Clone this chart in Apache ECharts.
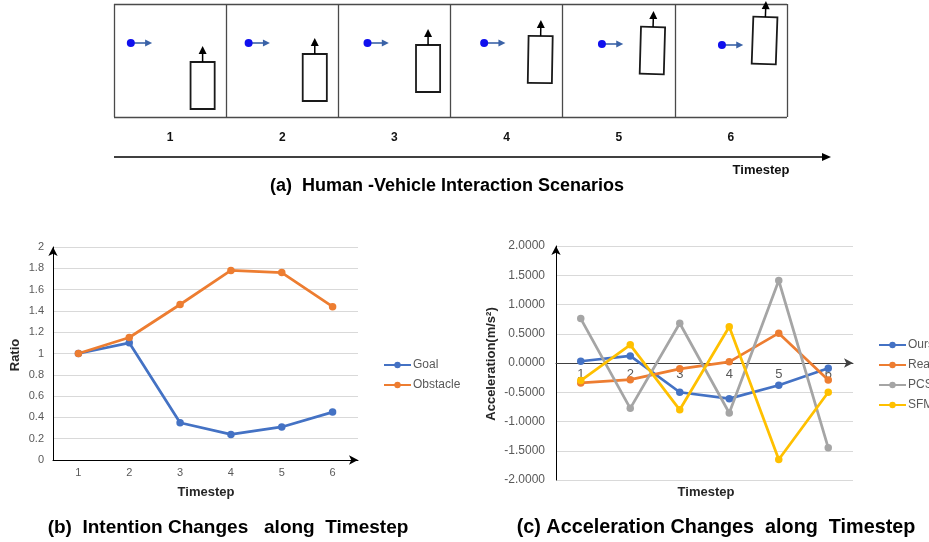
<!DOCTYPE html>
<html><head><meta charset="utf-8">
<script src="https://cdn.jsdelivr.net/npm/echarts@6/dist/echarts.min.js"></script>
<style>html,body{margin:0;padding:0;background:#fff}#c{width:929px;height:542px}</style>
</head><body><div id="c"></div>
<script>
// ---- data ----
const steps = ['1','2','3','4','5','6'];
// (a) schematic: pedestrian and vehicle positions per timestep panel
const pedX = [0.15, 1.20, 2.26, 3.30, 4.35, 5.42];
const pedY = [74, 74, 74, 74, 73, 72];
const vehX = [0.79, 1.79, 2.80, 3.80, 4.80, 5.80];
const vehY = [31.5, 39.5, 48.5, 57.5, 66.5, 76.5];
const vehTilt = [0, 0, 0, 1, 1.6, 2];
// (b) intention ratios
const goal = [1, 1.1, 0.35, 0.24, 0.31, 0.45];
const obstacle = [1, 1.15, 1.46, 1.78, 1.76, 1.44];
// (c) acceleration
const ours = [0.03, 0.12, -0.50, -0.61, -0.38, -0.09];
const real = [-0.34, -0.285, -0.10, 0.02, 0.51, -0.29];
const pcs = [0.76, -0.775, 0.68, -0.855, 1.41, -1.45];
const sfm = [-0.30, 0.31, -0.80, 0.62, -1.65, -0.50];

const capFont = "'Liberation Sans',Arial,sans-serif";
const axFont = "'Liberation Sans',Arial,sans-serif";
const gray = '#595959';

const chart = echarts.init(document.getElementById('c'), null, {renderer: 'canvas'});

function lineSeries(name, data, color, xi, yi) {
  return {
    name, type: 'line', data, xAxisIndex: xi, yAxisIndex: yi,
    symbol: 'circle', symbolSize: 7.5, color,
    lineStyle: {width: 2.75, color}, itemStyle: {color},
    emphasis: {disabled: true}, animation: false, z: 3
  };
}

const option = {
  animation: false,
  backgroundColor: '#fff',
  grid: [
    {left: 114, top: 4, width: 673, height: 113},
    {left: 53, top: 247, width: 305, height: 213},
    {left: 556, top: 246, width: 297, height: 234}
  ],
  xAxis: [
    {gridIndex: 0, type: 'value', min: 0, max: 6, interval: 1,
     axisLine: {show: false}, axisTick: {show: false}, axisLabel: {show: false},
     splitLine: {show: true, lineStyle: {color: '#4a4a4a', width: 1.3}}},
    {gridIndex: 0, type: 'category', data: steps, position: 'bottom',
     axisLine: {show: false}, axisTick: {show: false}, splitLine: {show: false},
     axisLabel: {margin: 15, color: '#111', fontWeight: 'bold', fontSize: 12, fontFamily: axFont}},
    {gridIndex: 1, type: 'category', data: steps, boundaryGap: true,
     axisLine: {show: true, lineStyle: {color: '#000', width: 1}, symbol: ['none', 'arrow'], symbolSize: [7, 9]},
     axisTick: {show: false}, splitLine: {show: false},
     axisLabel: {margin: 7, color: gray, fontSize: 11, fontFamily: axFont}},
    {gridIndex: 2, type: 'category', data: steps, boundaryGap: true, position: 'bottom', offset: -117,
     axisLine: {show: true, onZero: false, lineStyle: {color: '#404040', width: 1}, symbol: ['none', 'arrow'], symbolSize: [7, 9]},
     axisTick: {show: false}, splitLine: {show: false},
     axisLabel: {margin: 5, color: gray, fontSize: 13, fontFamily: axFont}}
  ],
  yAxis: [
    {gridIndex: 0, type: 'value', min: 0, max: 113, interval: 113,
     axisLine: {show: false}, axisTick: {show: false}, axisLabel: {show: false},
     splitLine: {show: true, lineStyle: {color: '#4a4a4a', width: 1.3}}},
    {gridIndex: 1, type: 'value', min: 0, max: 2, interval: 0.2,
     axisLine: {show: true, lineStyle: {color: '#000', width: 1}, symbol: ['none', 'arrow'], symbolSize: [7, 9]},
     axisTick: {show: false},
     splitLine: {show: true, lineStyle: {color: '#D9D9D9', width: 1}},
     axisLabel: {margin: 9, color: gray, fontSize: 11, fontFamily: axFont}},
    {gridIndex: 2, type: 'value', min: -2, max: 2, interval: 0.5,
     axisLine: {show: true, lineStyle: {color: '#000', width: 1}, symbol: ['none', 'arrow'], symbolSize: [7, 9]},
     axisTick: {show: false},
     splitLine: {show: true, lineStyle: {color: '#D9D9D9', width: 1}},
     axisLabel: {margin: 11, color: gray, fontSize: 12, fontFamily: axFont,
       formatter: v => v.toFixed(4)}}
  ],
  legend: [
    {data: ['Goal', 'Obstacle'], orient: 'vertical', left: 378, top: 354,
     itemWidth: 27, itemHeight: 8, itemGap: 8, selectedMode: false,
     textStyle: {color: gray, fontSize: 12, fontFamily: axFont, padding: [0, 0, 0, -3]}},
    {data: ['Ours', 'Real', 'PCS', 'SFM'], orient: 'vertical', left: 873, top: 334,
     itemWidth: 27, itemHeight: 8, itemGap: 8, selectedMode: false,
     textStyle: {color: gray, fontSize: 12, fontFamily: axFont, padding: [0, 0, 0, -3]}}
  ],
  series: [
    {type: 'custom', xAxisIndex: 0, yAxisIndex: 0, silent: true, clip: false,
     data: pedX.map((x, i) => [x, pedY[i]]),
     renderItem(params, api) {
       const p = api.coord([api.value(0), api.value(1)]);
       const len = api.size([0.19, 0])[0];
       const col = '#3A62A7';
       return {type: 'group', children: [
         {type: 'line', shape: {x1: p[0], y1: p[1], x2: p[0] + len - 5, y2: p[1]}, style: {stroke: col, lineWidth: 1.6}},
         {type: 'polygon', shape: {points: [[p[0] + len - 7, p[1] - 3.5], [p[0] + len, p[1]], [p[0] + len - 7, p[1] + 3.5]]}, style: {fill: col}},
         {type: 'circle', shape: {cx: p[0], cy: p[1], r: 4}, style: {fill: '#1010EE'}}
       ]};
     }},
    {type: 'custom', xAxisIndex: 0, yAxisIndex: 0, silent: true, clip: false,
     data: vehX.map((x, i) => [x, vehY[i], vehTilt[i]]),
     renderItem(params, api) {
       const c = api.coord([api.value(0), api.value(1)]);
       const s = api.size([0.215, 47]);
       const w = s[0], h = s[1];
       const rot = -api.value(2) * Math.PI / 180;
       return {type: 'group', x: c[0], y: c[1], rotation: rot, children: [
         {type: 'rect', shape: {x: -w / 2, y: -h / 2, width: w, height: h}, style: {fill: '#fff', stroke: '#1a1a1a', lineWidth: 1.8}},
         {type: 'line', shape: {x1: 0, y1: -h / 2, x2: 0, y2: -h / 2 - 9}, style: {stroke: '#000', lineWidth: 1.5}},
         {type: 'polygon', shape: {points: [[-4, -h / 2 - 8], [0, -h / 2 - 16], [4, -h / 2 - 8]]}, style: {fill: '#000'}}
       ]};
     }},
    lineSeries('Goal', goal, '#4472C4', 2, 1),
    lineSeries('Obstacle', obstacle, '#ED7D31', 2, 1),
    lineSeries('Ours', ours, '#4472C4', 3, 2),
    lineSeries('Real', real, '#ED7D31', 3, 2),
    lineSeries('PCS', pcs, '#A5A5A5', 3, 2),
    lineSeries('SFM', sfm, '#FFC000', 3, 2)
  ],
  graphic: [
    {type: 'line', shape: {x1: 114, y1: 157, x2: 823, y2: 157}, style: {stroke: '#000', lineWidth: 1.5}},
    {type: 'polygon', shape: {points: [[822, 153], [831, 157], [822, 161]]}, style: {fill: '#000'}},
    {type: 'text', x: 761, y: 170, style: {text: 'Timestep', font: "bold 13px " + capFont, fill: '#111', textAlign: 'center', textVerticalAlign: 'middle'}},
    {type: 'text', x: 447, y: 186, style: {text: '(a)  Human -Vehicle Interaction Scenarios', font: "bold 18px " + capFont, fill: '#000', textAlign: 'center', textVerticalAlign: 'middle'}},
    {type: 'text', x: 228, y: 528, style: {text: '(b)  Intention Changes   along  Timestep', font: "bold 19px " + capFont, fill: '#000', textAlign: 'center', textVerticalAlign: 'middle'}},
    {type: 'text', x: 716, y: 528, style: {text: '(c) Acceleration Changes  along  Timestep', font: "bold 19.8px " + capFont, fill: '#000', textAlign: 'center', textVerticalAlign: 'middle'}},
    {type: 'text', x: 15, y: 355, rotation: Math.PI / 2, style: {text: 'Ratio', font: "bold 13px " + axFont, fill: '#262626', textAlign: 'center', textVerticalAlign: 'middle'}},
    {type: 'text', x: 206, y: 492, style: {text: 'Timestep', font: "bold 13px " + axFont, fill: '#262626', textAlign: 'center', textVerticalAlign: 'middle'}},
    {type: 'text', x: 491, y: 364, rotation: Math.PI / 2, style: {text: 'Acceleration(m/s²)', font: "bold 13px " + axFont, fill: '#262626', textAlign: 'center', textVerticalAlign: 'middle'}},
    {type: 'text', x: 706, y: 492, style: {text: 'Timestep', font: "bold 13px " + axFont, fill: '#262626', textAlign: 'center', textVerticalAlign: 'middle'}}
  ]
};
chart.setOption(option);
</script>
</body></html>
